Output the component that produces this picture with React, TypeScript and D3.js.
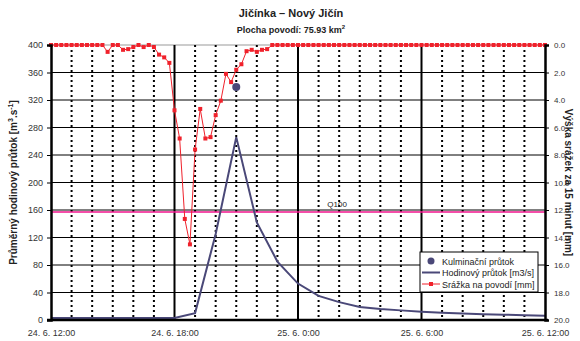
import React, { useEffect, useRef } from 'react';
import * as d3 from 'd3';

// hours after 24. 6. 12:00
const hourTicks = [0, 6, 12, 18, 24];
const hourTickLabels = ['24. 6. 12:00', '24. 6. 18:00', '25. 6. 0:00', '25. 6. 6:00', '25. 6. 12:00'];

// hourly discharge [m3/s], 24. 6. 12:00 .. 25. 6. 12:00
const discharge = [3, 3, 3, 3, 3, 3, 3, 10, 125, 266, 142, 85, 53, 35, 26, 19, 16, 14, 12, 10.5, 9.5, 8.5, 7.8, 7, 6.3];

// culmination
const peakHour = 9;
const peakValue = 339;

const q100 = 157;

// 15-minute precipitation [mm]
const rain = [
  0, 0, 0, 0, 0, 0, 0, 0, 0, 0, 0, 0.5, 0, 0, 0.35, 0.3,
  0.15, 0, 0.15, 0, 0.15, 0.7, 0.9, 1.3, 4.75, 6.8, 12.65, 14.5, 7.6, 4.65, 6.8, 6.7,
  5.1, 4.05, 2.1, 2.7, 1.8, 1.4, 0.45, 0.35, 0.5, 0.35, 0.3, 0, 0, 0, 0, 0,
  0, 0, 0, 0, 0, 0, 0, 0, 0, 0, 0, 0, 0, 0, 0, 0,
  0, 0, 0, 0, 0, 0, 0, 0, 0, 0, 0, 0, 0, 0, 0, 0,
  0, 0, 0, 0, 0, 0, 0, 0, 0, 0, 0, 0, 0, 0, 0, 0,
  0,
];

const leftTicks = [0, 40, 80, 120, 160, 200, 240, 280, 320, 360, 400];
const rightTicks = [0, 2, 4, 6, 8, 10, 12, 14, 16, 18, 20];

const FONT = '"Liberation Sans", Arial, sans-serif';
const BLUE = '#4a4878';
const RED = '#f0212b';

const App = () => {
  const ref = useRef<SVGSVGElement | null>(null);

  useEffect(() => {
    document.body.style.margin = '0';
    const width = 580;
    const height = 341;
    const m = { left: 51, right: 545, top: 45, bottom: 320 };

    const svg = d3.select(ref.current);
    svg.selectAll('*').remove();
    svg.attr('width', width).attr('height', height).style('font-family', FONT);

    svg.append('rect').attr('width', width).attr('height', height).attr('fill', '#fff');

    const x = d3.scaleLinear().domain([0, 24]).range([m.left, m.right]);
    const y = d3.scaleLinear().domain([0, 400]).range([m.bottom, m.top]);
    const yr = d3.scaleLinear().domain([0, 20]).range([m.top, m.bottom]);

    // horizontal grid
    svg.append('g')
      .selectAll('line')
      .data(leftTicks.slice(1))
      .enter()
      .append('line')
      .attr('x1', m.left)
      .attr('x2', m.right)
      .attr('y1', d => y(d))
      .attr('y2', d => y(d))
      .attr('stroke', d => (d === 400 ? '#999' : '#000'))
      .attr('stroke-width', 1);

    // hourly dotted grid
    svg.append('g')
      .selectAll('line')
      .data(d3.range(1, 24).filter(h => h % 6 !== 0))
      .enter()
      .append('line')
      .attr('x1', d => x(d))
      .attr('x2', d => x(d))
      .attr('y1', m.top)
      .attr('y2', m.bottom)
      .attr('stroke', '#000')
      .attr('stroke-width', 2)
      .attr('stroke-dasharray', '2,3');

    // 6-hour solid grid
    svg.append('g')
      .selectAll('line')
      .data([6, 12, 18])
      .enter()
      .append('line')
      .attr('x1', d => x(d))
      .attr('x2', d => x(d))
      .attr('y1', m.top)
      .attr('y2', m.bottom)
      .attr('stroke', '#000')
      .attr('stroke-width', 2);

    // Q100
    svg.append('line')
      .attr('x1', m.left)
      .attr('x2', m.right)
      .attr('y1', y(q100))
      .attr('y2', y(q100))
      .attr('stroke', '#f0148c')
      .attr('stroke-width', 1.5);
    svg.append('text')
      .attr('x', x(13.9))
      .attr('y', y(q100) - 5)
      .attr('text-anchor', 'middle')
      .attr('font-size', 8)
      .attr('fill', '#222')
      .text('Q100');

    // discharge line
    const line = d3.line<number>()
      .x((_, i) => x(i))
      .y(d => y(d));
    svg.append('path')
      .datum(discharge)
      .attr('d', line)
      .attr('fill', 'none')
      .attr('stroke', BLUE)
      .attr('stroke-width', 2);

    // precipitation
    const rainLine = d3.line<number>()
      .x((_, i) => x(i / 4))
      .y(d => yr(d));
    svg.append('path')
      .datum(rain)
      .attr('d', rainLine)
      .attr('fill', 'none')
      .attr('stroke', RED)
      .attr('stroke-width', 1);
    svg.append('g')
      .selectAll('rect')
      .data(rain)
      .enter()
      .append('rect')
      .attr('x', (_, i) => x(i / 4) - 2)
      .attr('y', d => yr(d) - 2)
      .attr('width', 4)
      .attr('height', 4)
      .attr('fill', RED);

    // culmination point
    svg.append('circle')
      .attr('cx', x(peakHour))
      .attr('cy', y(peakValue))
      .attr('r', 4)
      .attr('fill', BLUE);

    // axes
    const axL = svg.append('g')
      .attr('transform', `translate(${m.left},0)`)
      .call(d3.axisLeft(y).tickValues(leftTicks).tickSize(4).tickPadding(4));
    const axR = svg.append('g')
      .attr('transform', `translate(${m.right},0)`)
      .call(d3.axisRight(yr).tickValues(rightTicks).tickSize(4).tickPadding(5).tickFormat(d3.format('.1f')));
    const axB = svg.append('g')
      .attr('transform', `translate(0,${m.bottom})`)
      .call(d3.axisBottom(x).tickValues(hourTicks).tickSize(0).tickPadding(10)
        .tickFormat((_, i) => hourTickLabels[i]));
    [axL, axR, axB].forEach(ax => {
      ax.select('.domain').attr('stroke', '#000').attr('stroke-width', 2.5);
      ax.selectAll('.tick line').attr('stroke', '#000');
      ax.selectAll('.tick text').attr('font-size', 9).attr('font-family', FONT).attr('fill', '#333');
    });
    axR.selectAll('.tick text').attr('font-size', 8);
    axB.select('.domain').attr('d', `M${m.left - 4},0H${m.right + 3}`);

    // titles
    svg.append('text')
      .attr('x', 291)
      .attr('y', 17)
      .attr('text-anchor', 'middle')
      .attr('font-size', 11)
      .attr('font-weight', 'bold')
      .attr('fill', '#222')
      .text('Jičínka – Nový Jičín');
    const sub = svg.append('text')
      .attr('x', 291)
      .attr('y', 33)
      .attr('text-anchor', 'middle')
      .attr('font-size', 9)
      .attr('font-weight', 'bold')
      .attr('fill', '#222');
    sub.append('tspan').text('Plocha povodí: 75.93 km');
    sub.append('tspan').attr('dy', -4).attr('font-size', 6).text('2');

    const yl = svg.append('text')
      .attr('transform', `translate(17,${(m.top + m.bottom) / 2}) rotate(-90)`)
      .attr('text-anchor', 'middle')
      .attr('font-size', 10)
      .attr('font-weight', 'bold')
      .attr('fill', '#222');
    yl.append('tspan').text('Průměrný hodinový průtok [m');
    yl.append('tspan').attr('dy', -4).attr('font-size', 7).text('3');
    yl.append('tspan').attr('dy', 4).text('.s');
    yl.append('tspan').attr('dy', -4).attr('font-size', 7).text('-1');
    yl.append('tspan').attr('dy', 4).text(']');

    svg.append('text')
      .attr('transform', `translate(565,${(m.top + m.bottom) / 2}) rotate(90)`)
      .attr('text-anchor', 'middle')
      .attr('font-size', 10)
      .attr('font-weight', 'bold')
      .attr('fill', '#222')
      .text('Výška srážek za 15 minut [mm]');

    // legend
    const lg = svg.append('g').attr('transform', 'translate(420,252)');
    lg.append('rect')
      .attr('width', 118)
      .attr('height', 40)
      .attr('fill', '#fff')
      .attr('stroke', '#000')
      .attr('stroke-width', 1);
    const items = ['Kulminační průtok', 'Hodinový průtok [m3/s]', 'Srážka na povodí [mm]'];
    items.forEach((t, i) => {
      const yy = 9 + i * 11.5;
      if (i === 0) {
        lg.append('circle').attr('cx', 11).attr('cy', yy).attr('r', 3.5).attr('fill', BLUE);
      } else if (i === 1) {
        lg.append('line').attr('x1', 2).attr('x2', 20).attr('y1', yy).attr('y2', yy)
          .attr('stroke', BLUE).attr('stroke-width', 2);
      } else {
        lg.append('line').attr('x1', 2).attr('x2', 20).attr('y1', yy).attr('y2', yy)
          .attr('stroke', RED).attr('stroke-width', 1);
        lg.append('rect').attr('x', 9).attr('y', yy - 2).attr('width', 4).attr('height', 4).attr('fill', RED);
      }
      lg.append('text')
        .attr('x', 22)
        .attr('y', yy + 3.5)
        .attr('font-size', 9)
        .attr('fill', '#222')
        .text(t);
    });
  }, []);

  return <svg ref={ref} style={{ display: 'block' }} />;
};

export default App;
